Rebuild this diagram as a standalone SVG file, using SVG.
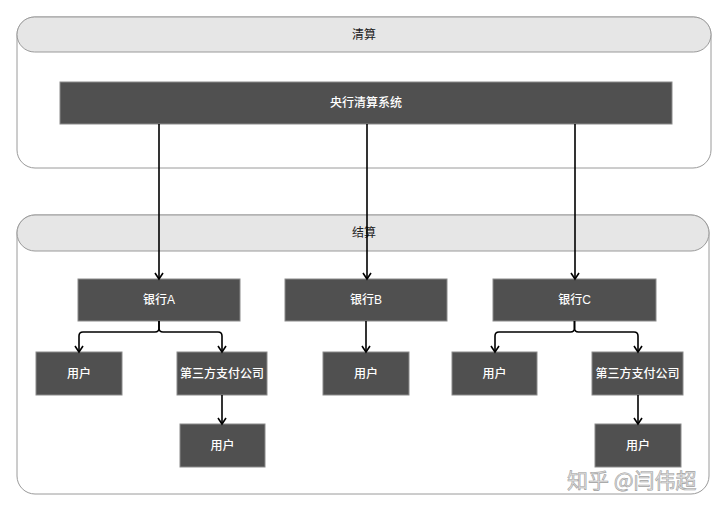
<svg xmlns="http://www.w3.org/2000/svg" width="720" height="509" viewBox="0 0 720 509">
<style>
.cont{fill:#ffffff;stroke:#9a9a9a;stroke-width:1}
.head{fill:#e6e6e6;stroke:#9a9a9a;stroke-width:1}
.box{fill:#505050;stroke:#8a8a8a;stroke-width:1}
.ht{font-family:"Liberation Sans","Noto Sans CJK SC",sans-serif;font-size:12px;fill:#222;text-anchor:middle;dominant-baseline:central}
.bt{font-family:"Liberation Sans","Noto Sans CJK SC",sans-serif;font-size:12px;font-weight:500;fill:#ffffff;text-anchor:middle;dominant-baseline:central}
.edge{fill:none;stroke:#000;stroke-width:1.6}
.wm{font-family:"Noto Sans CJK SC",sans-serif;font-size:21px;fill:#e2e2e2;stroke:#a0a0a0;stroke-width:0.6}
</style>
<defs>
<marker id="arr" viewBox="0 0 10 10" refX="8" refY="5" markerWidth="10" markerHeight="10" markerUnits="userSpaceOnUse" orient="auto">
<path d="M2,1 L8,5 L2,9" fill="none" stroke="#000" stroke-width="1.6"/>
</marker>
</defs>
<g id="qingsuan">
<rect class="cont" x="17" y="17" width="694" height="151" rx="18"/>
<rect class="head" x="17" y="17" width="694" height="35" rx="17.5"/>
<text class="ht" x="364" y="35">清算</text>
</g>
<g id="jiesuan">
<rect class="cont" x="17" y="215" width="692" height="279" rx="18"/>
<rect class="head" x="17" y="215" width="692" height="36" rx="18"/>
<text class="ht" x="364" y="233">结算</text>
</g>
<g id="central">
<rect class="box" x="60" y="82" width="612" height="42"/>
<text class="bt" x="366" y="103">央行清算系统</text>
</g>
<g id="bankA"><rect class="box" x="78" y="279" width="162" height="42"/><text class="bt" x="159" y="300">银行A</text></g>
<g id="bankB"><rect class="box" x="285" y="279" width="162" height="42"/><text class="bt" x="366" y="300">银行B</text></g>
<g id="bankC"><rect class="box" x="493" y="279" width="163" height="42"/><text class="bt" x="574.5" y="300">银行C</text></g>
<g id="userA1"><rect class="box" x="36" y="352" width="86" height="43"/><text class="bt" x="79" y="373.5">用户</text></g>
<g id="tpA"><rect class="box" x="177" y="352" width="90" height="43"/><text class="bt" x="222" y="373.5">第三方支付公司</text></g>
<g id="userA2"><rect class="box" x="180" y="424" width="85" height="43"/><text class="bt" x="222.5" y="445.5">用户</text></g>
<g id="userB"><rect class="box" x="323" y="352" width="86" height="43"/><text class="bt" x="366" y="373.5">用户</text></g>
<g id="userC1"><rect class="box" x="452" y="352" width="85" height="43"/><text class="bt" x="494.5" y="373.5">用户</text></g>
<g id="tpC"><rect class="box" x="592" y="352" width="91" height="43"/><text class="bt" x="637.5" y="373.5">第三方支付公司</text></g>
<g id="userC2"><rect class="box" x="595" y="424" width="86" height="43"/><text class="bt" x="638" y="445.5">用户</text></g>
<g id="connectors">
<path class="edge" marker-end="url(#arr)" d="M159,124 L159,279"/>
<path class="edge" marker-end="url(#arr)" d="M367,124 L367,279"/>
<path class="edge" marker-end="url(#arr)" d="M575,124 L575,279"/>
<path class="edge" marker-end="url(#arr)" d="M159,321 L159,328 Q159,332 155,332 L83,332 Q79,332 79,336 L79,352"/>
<path class="edge" marker-end="url(#arr)" d="M159,321 L159,328 Q159,332 163,332 L218,332 Q222,332 222,336 L222,352"/>
<path class="edge" marker-end="url(#arr)" d="M222,395 L222,424"/>
<path class="edge" marker-end="url(#arr)" d="M366,321 L366,352"/>
<path class="edge" marker-end="url(#arr)" d="M574.5,321 L574.5,328 Q574.5,332 570.5,332 L499,332 Q495,332 495,336 L495,352"/>
<path class="edge" marker-end="url(#arr)" d="M574.5,321 L574.5,328 Q574.5,332 578.5,332 L634,332 Q638,332 638,336 L638,352"/>
<path class="edge" marker-end="url(#arr)" d="M638,395 L638,424"/>
</g>
<text class="wm" x="567" y="488">知乎 @闫伟超</text>
</svg>
